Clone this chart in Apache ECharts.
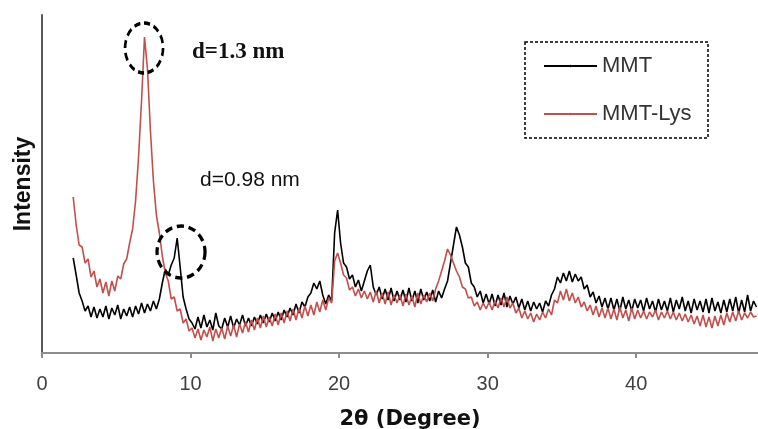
<!DOCTYPE html>
<html>
<head>
<meta charset="utf-8">
<title>XRD MMT / MMT-Lys</title>
<script src="https://cdn.jsdelivr.net/npm/echarts@6/dist/echarts.min.js"></script>
<style>
  html, body { margin: 0; padding: 0; background: #fff; }
  #chart { width: 758px; height: 429px; }
</style>
</head>
<body>
<div id="chart"></div>
<script>
// both scans share the same 2θ sampling
const thetaStart = 2.1
const thetaStep = 0.2
const seriesNames = ['MMT', 'MMT-Lys']

// intensity (arb. units), one row = 2 degrees
const mmt = [
  95, 78, 60, 52, 42, 47, 36, 46, 35, 44,
  36, 47, 34, 45, 38, 48, 34, 44, 37, 46,
  36, 47, 39, 50, 40, 49, 42, 52, 44, 54,
  70, 84, 78, 88, 95, 115, 86, 56, 44, 34,
  30, 24, 36, 25, 38, 26, 33, 23, 40, 27,
  24, 35, 26, 37, 25, 34, 28, 38, 27, 35,
  27, 36, 29, 38, 30, 39, 31, 40, 32, 41,
  33, 43, 36, 45, 38, 49, 40, 51, 46, 56,
  60, 70, 64, 72, 58, 49, 58, 52, 120, 143,
  110, 90, 86, 74, 78, 66, 73, 62, 72, 82,
  88, 66, 58, 66, 54, 64, 53, 65, 52, 62,
  53, 63, 51, 65, 52, 62, 50, 64, 53, 61,
  52, 63, 51, 62, 55, 64, 72, 90, 108, 126,
  118, 106, 90, 86, 70, 66, 56, 62, 50, 59,
  49, 59, 47, 58, 48, 60, 46, 57, 49, 56,
  45, 54, 43, 52, 42, 51, 44, 50, 41, 52,
  47, 58, 64, 76, 70, 80, 72, 82, 71, 79,
  72, 76, 64, 68, 56, 61, 50, 57, 46, 55,
  44, 55, 43, 54, 42, 56, 44, 53, 42, 54,
  45, 53, 42, 55, 44, 52, 41, 54, 43, 52,
  42, 55, 41, 53, 44, 56, 42, 52, 40, 54,
  43, 52, 41, 54, 40, 55, 42, 51, 40, 53,
  41, 54, 42, 56, 40, 53, 41, 58, 42, 52,
  46
]
const mmtLys = [
  156, 128, 108, 106, 90, 94, 76, 82, 66, 74,
  60, 71, 57, 72, 62, 77, 74, 89, 94, 110,
  124, 152, 196, 252, 316, 284, 222, 172, 138, 120,
  97, 80, 72, 54, 56, 42, 44, 30, 34, 22,
  25, 15, 24, 13, 23, 16, 26, 12, 24, 15,
  25, 14, 27, 17, 28, 16, 29, 20, 31, 21,
  33, 23, 35, 25, 37, 26, 36, 27, 39, 28,
  40, 30, 42, 32, 44, 33, 45, 35, 47, 37,
  48, 38, 51, 41, 53, 43, 55, 50, 92, 100,
  90, 78, 75, 63, 66, 57, 64, 55, 62, 54,
  61, 51, 62, 50, 60, 49, 61, 48, 58, 50,
  58, 47, 59, 48, 57, 46, 60, 49, 58, 51,
  60, 52, 64, 72, 82, 92, 104, 98, 90, 82,
  76, 66, 64, 55, 56, 47, 51, 43, 50, 44,
  51, 43, 52, 45, 55, 46, 56, 45, 50, 40,
  45, 35, 42, 34, 40, 31, 39, 33, 41, 35,
  44, 38, 53, 50, 62, 53, 64, 52, 60, 50,
  56, 46, 51, 42, 48, 38, 47, 36, 45, 35,
  45, 34, 44, 33, 46, 35, 43, 32, 45, 34,
  43, 35, 42, 34, 41, 36, 43, 33, 41, 35,
  42, 34, 41, 33, 40, 32, 39, 31, 38, 29,
  37, 27, 38, 26, 36, 25, 37, 27, 38, 28,
  40, 31, 41, 32, 42, 33, 40, 35, 41, 36,
  37
]

// circled reflections and their d-spacing notes
const peakLabels = ['d=1.3 nm', 'd=0.98 nm']
const peakCenters = [[6.87, 305], [9.36, 101]]

const toPoints = vals => vals.map((v, i) => [+(thetaStart + thetaStep * i).toFixed(2), v])

const chart = echarts.init(document.getElementById('chart'))

chart.setOption({
  animation: false,
  grid: { left: 42, right: 0, top: 15, bottom: 76, containLabel: false, outerBoundsMode: 'none' },
  legend: {
    orient: 'vertical',
    left: 543,
    top: 55,
    padding: 0,
    itemGap: 26,
    itemWidth: 53,
    itemHeight: 3,
    textStyle: { fontFamily: 'Liberation Sans', fontSize: 22, color: '#333' },
    data: seriesNames
  },
  xAxis: {
    type: 'value',
    min: 0,
    max: 48.2,
    interval: 10,
    name: '2θ (Degree)',
    nameLocation: 'middle',
    nameGap: 56,
    nameTextStyle: {
      fontFamily: 'DejaVu Sans', fontWeight: 'bold', fontSize: 21, color: '#111',
      padding: [0, 0, 0, 20]
    },
    axisLine: { onZero: false, lineStyle: { color: '#8c8c8c', width: 2 } },
    axisTick: { length: 5, lineStyle: { color: '#8c8c8c', width: 2 } },
    axisLabel: { showMaxLabel: false, margin: 21, fontFamily: 'Liberation Sans', fontSize: 20, color: '#404040' },
    splitLine: { show: false }
  },
  yAxis: {
    type: 'value',
    min: 0,
    max: 338,
    name: 'Intensity',
    nameLocation: 'middle',
    nameRotate: 90,
    nameGap: 7,
    nameTextStyle: { fontFamily: 'Liberation Sans', fontWeight: 'bold', fontSize: 23, color: '#111' },
    axisLine: { show: true, lineStyle: { color: '#595959', width: 2 } },
    axisTick: { show: false },
    axisLabel: { show: false },
    splitLine: { show: false }
  },
  series: [
    {
      name: seriesNames[0],
      type: 'line',
      symbol: 'none',
      color: '#000',
      lineStyle: { color: '#000', width: 1.6 },
      data: toPoints(mmt)
    },
    {
      name: seriesNames[1],
      type: 'line',
      symbol: 'none',
      color: '#c0504d',
      lineStyle: { color: '#c0504d', width: 1.6 },
      data: toPoints(mmtLys)
    }
  ]
})

// annotations go on after layout so the circles sit on the peaks
const c1 = chart.convertToPixel({ gridIndex: 0 }, peakCenters[0])
const c2 = chart.convertToPixel({ gridIndex: 0 }, peakCenters[1])
const dashed = { fill: 'none', stroke: '#000', lineWidth: 3.5, lineDash: [8, 5], strokeNoScale: true }

chart.setOption({
  graphic: [
    {
      type: 'circle', shape: { cx: 0, cy: 0, r: 25 }, x: c1[0], y: c1[1],
      scaleX: 19 / 25, style: dashed, z: 10
    },
    {
      type: 'circle', shape: { cx: 0, cy: 0, r: 26 }, x: c2[0], y: c2[1],
      scaleX: 24 / 26, style: dashed, z: 10
    },
    {
      type: 'text', x: 192, y: 52,
      style: {
        text: peakLabels[0], fill: '#111', font: 'bold 23px "Liberation Serif"',
        textVerticalAlign: 'middle'
      }
    },
    {
      type: 'text', x: 200, y: 180,
      style: {
        text: peakLabels[1], fill: '#111', font: '21px "Liberation Sans"',
        textVerticalAlign: 'middle'
      }
    },
    {
      type: 'rect', shape: { x: 525, y: 42, width: 183, height: 96 },
      style: { fill: 'none', stroke: '#000', lineWidth: 1.5, lineDash: [3, 2] }
    }
  ]
})
</script>
</body>
</html>
